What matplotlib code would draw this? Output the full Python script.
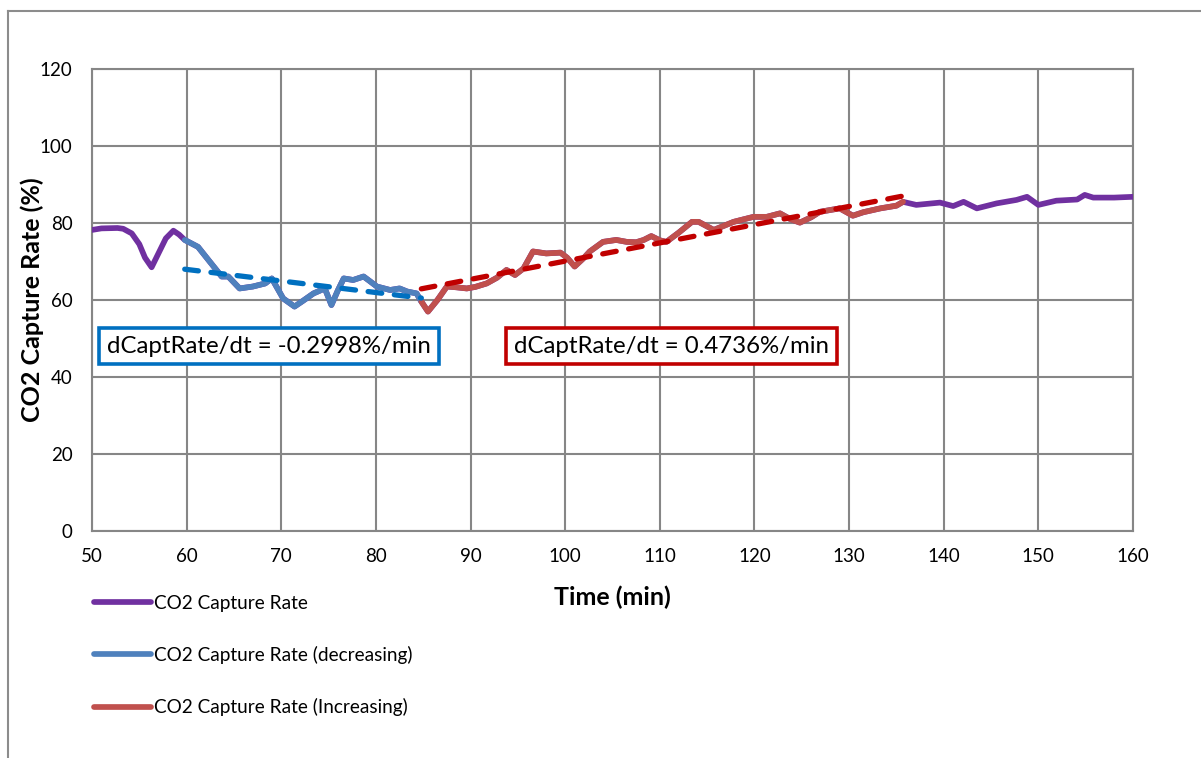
import numpy as np
import matplotlib
matplotlib.use('Agg')
import matplotlib.pyplot as plt
from matplotlib.lines import Line2D

# Data
time_min = [50.0, 51.0, 52.7, 53.3, 54.2, 55.0, 55.6, 56.3, 57.0, 57.8, 58.6, 59.2, 59.8,
            61.2, 62.3, 63.7, 64.4, 65.6, 67.0, 68.3, 69.0, 70.2, 71.4, 72.3, 73.4, 74.6,
            75.3, 76.0, 76.6, 77.6, 78.7, 79.3, 80.1, 81.5, 82.5, 83.3, 84.3, 84.8,
            85.5, 86.5, 87.5, 88.5, 89.6, 90.5, 91.7, 92.8, 93.8, 94.7, 95.6, 96.6, 98.0,
            99.5, 100.2, 101.0, 102.0, 102.6, 104.0, 105.4, 106.5, 107.5, 108.3, 109.1,
            110.0, 110.7, 112.0, 113.4, 114.1, 115.7, 117.8, 119.9, 121.3, 122.7, 123.8,
            124.8, 126.0, 126.9, 129.0, 130.4, 131.5, 133.3, 135.0, 135.7,
            137.1, 139.6, 141.0, 142.1, 143.5, 145.6, 147.7, 148.8, 150.0, 151.9, 154.1,
            154.9, 155.8, 158.0, 160.0]
capture_rate = [78.2, 78.6, 78.7, 78.5, 77.3, 74.5, 71.0, 68.5, 72.0, 76.0, 78.0, 77.0, 75.6,
                73.8, 70.4, 66.1, 66.1, 63.0, 63.5, 64.3, 65.6, 60.4, 58.3, 59.8, 61.7, 63.0,
                58.7, 62.6, 65.6, 65.2, 66.1, 65.0, 63.5, 62.6, 63.0, 62.2, 61.7, 59.6,
                57.0, 60.0, 63.5, 63.3, 63.0, 63.4, 64.3, 65.8, 67.8, 66.5, 68.2, 72.6, 72.1,
                72.3, 71.0, 68.7, 71.0, 72.6, 75.1, 75.6, 75.1, 75.0, 75.6, 76.6,
                75.5, 75.1, 77.5, 80.3, 80.3, 78.2, 80.3, 81.6, 81.6, 82.5, 81.0,
                80.1, 81.5, 82.9, 83.8, 81.9, 82.8, 83.8, 84.5, 85.5,
                84.7, 85.3, 84.4, 85.5, 83.8, 85.1, 86.0, 86.8, 84.7, 85.8, 86.1,
                87.3, 86.6, 86.6, 86.8]

# time windows of the decreasing / increasing parts
dec_window = (59.8, 84.8)
inc_window = (84.8, 135.7)

# fitted trend lines (slope from the chart labels, start value)
dec_slope = -0.2998
dec_start_value = 68.0
inc_slope = 0.4736
inc_start_value = 62.9

t = np.array(time_min)
v = np.array(capture_rate)

purple = '#7030A0'
blue = '#4F81BD'
red = '#C0504D'
trend_blue = '#0070C0'
trend_red = '#C00000'
grid_gray = '#868686'

plt.rcParams['font.family'] = ['Lato', 'DejaVu Sans']

fig = plt.figure(figsize=(12.01, 7.58), dpi=100)
ax = fig.add_axes([92 / 1201, 1 - 531 / 758, (1133 - 92) / 1201, (531 - 69) / 758])

lw = 4.1
ax.plot(t, v, color=purple, lw=lw, solid_capstyle='round', solid_joinstyle='round',
        label='CO2 Capture Rate', zorder=3)
dmask = (t >= dec_window[0]) & (t <= dec_window[1])
ax.plot(t[dmask], v[dmask], color=blue, lw=lw, solid_capstyle='round', solid_joinstyle='round',
        label='CO2 Capture Rate (decreasing)', zorder=4)
imask = (t >= inc_window[0]) & (t <= inc_window[1])
ax.plot(t[imask], v[imask], color=red, lw=lw, solid_capstyle='round', solid_joinstyle='round',
        label='CO2 Capture Rate (Increasing)', zorder=4)

# trend lines
td = np.array(dec_window)
ax.plot(td, dec_start_value + dec_slope * (td - td[0]), color=trend_blue, lw=3.8,
        dashes=(2.6, 2.4), dash_capstyle='round', zorder=5)
ti = np.array(inc_window)
ax.plot(ti, inc_start_value + inc_slope * (ti - ti[0]), color=trend_red, lw=3.8,
        dashes=(2.6, 2.4), dash_capstyle='round', zorder=5)

ax.set_xlim(50, 160)
ax.set_ylim(0, 120)
ax.set_xticks(np.arange(50, 161, 10))
ax.set_yticks(np.arange(0, 121, 20))
ax.grid(True, color=grid_gray, lw=1.5)
ax.set_axisbelow(True)
for s in ax.spines.values():
    s.set_color(grid_gray)
    s.set_linewidth(1.5)
ax.tick_params(length=0, labelsize=13.5, colors='black')
ax.tick_params(axis='y', pad=14)
ax.tick_params(axis='x', pad=12)

ax.set_xlabel('Time (min)', fontsize=18, fontweight='bold', labelpad=15)
ax.set_ylabel('CO2 Capture Rate (%)', fontsize=18, fontweight='bold', labelpad=-3)

ax.text(0.170, 0.4, f'dCaptRate/dt = {dec_slope:.4f}%/min', transform=ax.transAxes,
        fontsize=17.3, ha='center', va='center', zorder=6,
        bbox=dict(boxstyle='square,pad=0.32', fc='white', ec=trend_blue, lw=2.6))
ax.text(0.5567, 0.4, f'dCaptRate/dt = {inc_slope:.4f}%/min', transform=ax.transAxes,
        fontsize=17.3, ha='center', va='center', zorder=6,
        bbox=dict(boxstyle='square,pad=0.32', fc='white', ec=trend_red, lw=2.6))

leg = fig.legend(loc='upper left', bbox_to_anchor=(86 / 1201, 1 - 587 / 758), frameon=False,
                 fontsize=13.7, handlelength=3.0, handletextpad=0.2, labelspacing=1.8,
                 borderaxespad=0)

# outer chart border (only left and top visible)
fig.add_artist(Line2D([8 / 1201, 8 / 1201], [0, 1 - 11 / 758], color='#8c8c8c', lw=1.5))
fig.add_artist(Line2D([8 / 1201, 1], [1 - 11 / 758, 1 - 11 / 758], color='#8c8c8c', lw=1.5))

fig.savefig('out.png', dpi=100)
